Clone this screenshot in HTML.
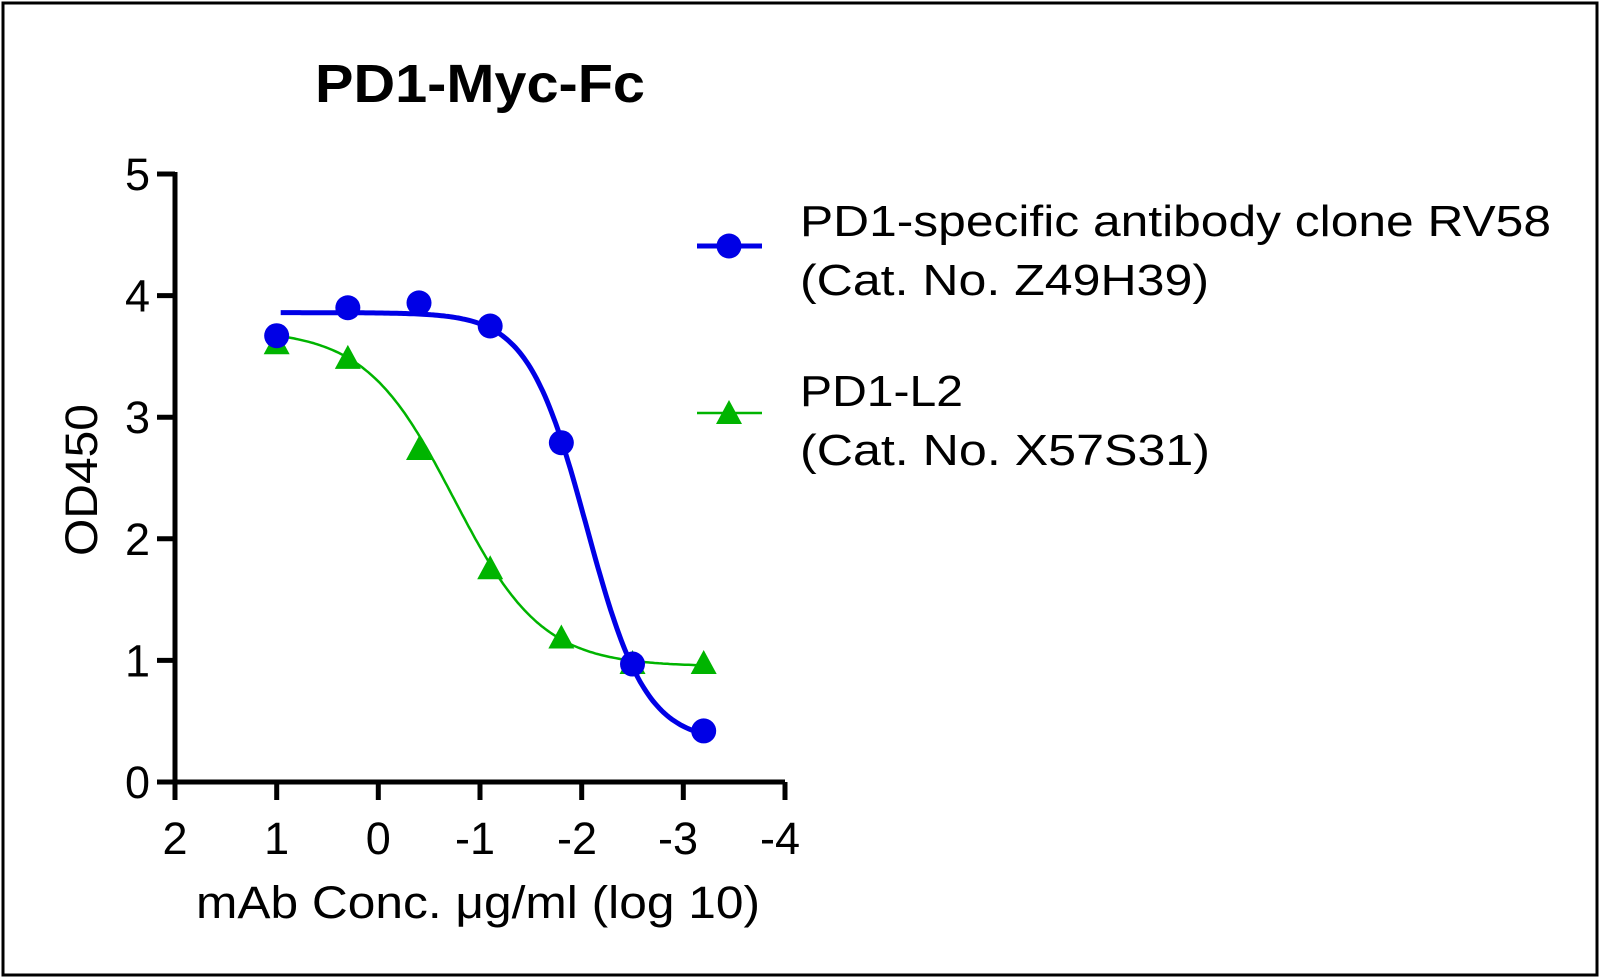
<!DOCTYPE html>
<html><head><meta charset="utf-8"><style>
html,body{margin:0;padding:0;background:#fff}
svg{display:block}
text{font-family:"Liberation Sans",Arial,sans-serif;fill:#000}
</style></head><body>
<svg id="s" width="1600" height="978" viewBox="0 0 1600 978" xmlns="http://www.w3.org/2000/svg">
<rect x="0" y="0" width="1600" height="978" fill="#fff"/>
<rect x="3" y="3" width="1594" height="972" fill="none" stroke="#000" stroke-width="3"/>
<text x="480" y="102" font-size="54" font-weight="bold" text-anchor="middle" textLength="330" lengthAdjust="spacingAndGlyphs">PD1-Myc-Fc</text>
<g stroke="#000" stroke-width="5" fill="none">
<line x1="175" y1="172" x2="175" y2="784"/>
<line x1="173" y1="782" x2="785" y2="782"/>
<line x1="157" y1="174" x2="175" y2="174"/>
<line x1="157" y1="295.6" x2="175" y2="295.6"/>
<line x1="157" y1="417.2" x2="175" y2="417.2"/>
<line x1="157" y1="538.8" x2="175" y2="538.8"/>
<line x1="157" y1="660.4" x2="175" y2="660.4"/>
<line x1="157" y1="782" x2="175" y2="782"/>
<line x1="175" y1="782" x2="175" y2="800"/>
<line x1="276.7" y1="782" x2="276.7" y2="800"/>
<line x1="378.3" y1="782" x2="378.3" y2="800"/>
<line x1="480" y1="782" x2="480" y2="800"/>
<line x1="581.7" y1="782" x2="581.7" y2="800"/>
<line x1="683.3" y1="782" x2="683.3" y2="800"/>
<line x1="785" y1="782" x2="785" y2="800"/>
</g>
<g font-size="45" text-anchor="end">
<text x="150" y="190">5</text>
<text x="150" y="311.6">4</text>
<text x="150" y="433.2">3</text>
<text x="150" y="554.8">2</text>
<text x="150" y="676.4">1</text>
<text x="150" y="798">0</text>
</g>
<g font-size="45" text-anchor="middle">
<text x="175" y="854">2</text>
<text x="276.7" y="854">1</text>
<text x="378.3" y="854">0</text>
<text x="475" y="854">-1</text>
<text x="577" y="854">-2</text>
<text x="678" y="854">-3</text>
<text x="780" y="854">-4</text>
</g>
<text x="478" y="918" font-size="45" text-anchor="middle" textLength="564" lengthAdjust="spacingAndGlyphs">mAb Conc. μg/ml (log 10)</text>
<text transform="translate(97,480) rotate(-90)" font-size="45" text-anchor="middle" textLength="152" lengthAdjust="spacingAndGlyphs">OD450</text>
<path id="gc" fill="none" stroke="#00b400" stroke-width="2.5"/>
<path id="bc" fill="none" stroke="#0000e6" stroke-width="5"/>
<g id="gm" fill="#00b400"></g>
<g id="bm" fill="#0000e6"></g>
<line x1="697" y1="246" x2="762" y2="246" stroke="#0000e6" stroke-width="5"/>
<circle cx="729" cy="246" r="12.5" fill="#0000e6"/>
<line x1="697" y1="413" x2="762" y2="413" stroke="#00b400" stroke-width="2.5"/>
<polygon points="729,400 742,424 716,424" fill="#00b400"/>
<g font-size="44">
<text x="800" y="236" textLength="751" lengthAdjust="spacingAndGlyphs">PD1-specific antibody clone RV58</text>
<text x="800" y="295" textLength="409" lengthAdjust="spacingAndGlyphs">(Cat. No. Z49H39)</text>
<text x="800" y="406" textLength="163" lengthAdjust="spacingAndGlyphs">PD1-L2</text>
<text x="800" y="465" textLength="410" lengthAdjust="spacingAndGlyphs">(Cat. No. X57S31)</text>
</g>
</svg>
<script>
function X(v){return 175+(2-v)*101.67}
function Y(v){return 782-v*121.6}
function curve(top,bot,xm,h,x0,x1){var d="";for(var i=0;i<=200;i++){var x=x0+(x1-x0)*i/200;var y=bot+(top-bot)/(1+Math.pow(10,h*(xm-x)));d+=(i?"L":"M")+X(x).toFixed(1)+","+Y(y).toFixed(1);}return d;}
document.getElementById("bc").setAttribute("d",curve(3.86,0.33,-2.05,1.5,0.96,-3.2));
document.getElementById("gc").setAttribute("d",curve(3.72,0.95,-0.74,1.0,1,-3.2));
var xs=[1,0.3,-0.4,-1.1,-1.8,-2.5,-3.2];
var bv=[3.67,3.90,3.94,3.75,2.79,0.97,0.42];
var gv=[3.60,3.48,2.73,1.75,1.18,0.97,0.97];
var ns="http://www.w3.org/2000/svg";
var gm=document.getElementById("gm"),bm=document.getElementById("bm");
for(var i=0;i<7;i++){var x=X(xs[i]);
var p=document.createElementNS(ns,"polygon");var y=Y(gv[i]);
p.setAttribute("points",x+","+(y-14)+" "+(x+13)+","+(y+10)+" "+(x-13)+","+(y+10));gm.appendChild(p);
var c=document.createElementNS(ns,"circle");c.setAttribute("cx",x);c.setAttribute("cy",Y(bv[i]));c.setAttribute("r",12.5);bm.appendChild(c);}
</script>
</body></html>
